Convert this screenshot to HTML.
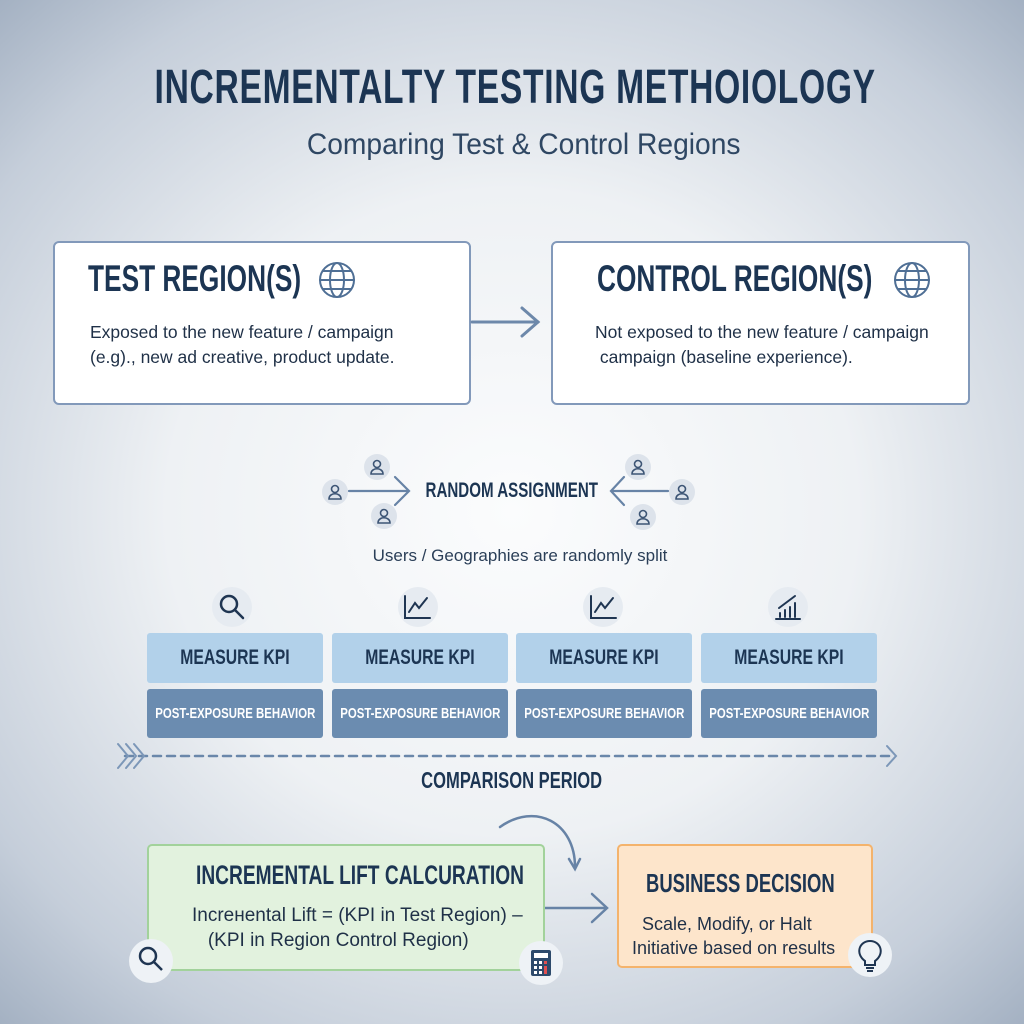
<!DOCTYPE html>
<html><head><meta charset="utf-8"><style>
body{margin:0;width:1024px;height:1024px;overflow:hidden;position:relative;font-family:"Liberation Sans",sans-serif;
background:radial-gradient(ellipse 75% 70% at 50% 50%,#fbfcfd 0%,#eef1f4 45%,#c5ceda 80%,#8d9db2 110%);}
.a{position:absolute}
.c{font-family:"Liberation Sans Narrow","Liberation Sans",sans-serif;font-weight:bold;color:#1c3553;white-space:nowrap}
.s{display:inline-block;transform:scaleX(.71);transform-origin:left center;white-space:nowrap}
.sc{display:inline-block;transform:scaleX(.72);transform-origin:center;white-space:nowrap}
.kpi{position:absolute;width:176px;height:50px;background:#b2d1ea;border-radius:3px;display:flex;align-items:center;justify-content:center;font-size:21px}
.peb{position:absolute;width:176px;height:49px;background:#6b8cb0;border-radius:3px;display:flex;align-items:center;justify-content:center;font-size:15px;color:#fff}
.ic{position:absolute;border-radius:50%;background:#eef2f6}
.box{position:absolute;background:#fff;border:2px solid #8299ba;border-radius:6px;box-sizing:border-box}
</style></head><body>
<div class="a c" style="left:0;width:1024px;top:60px;text-align:center;font-size:48px;letter-spacing:1px"><span class="sc" style="transform:scaleX(.7)">INCREMENTALTY TESTING METHOIOLOGY</span></div>
<div class="a" style="left:0;width:1048px;top:128px;text-align:center;font-size:30px;color:#2f4763"><span class="sc" style="transform:scaleX(.94)">Comparing Test &amp; Control Regions</span></div>

<div class="box" style="left:53px;top:241px;width:418px;height:164px"></div>
<div class="a c" style="left:88px;top:258px;font-size:37px"><span class="s">TEST REGION(S)</span></div>
<div class="a" style="left:90px;top:320px;font-size:17.5px;color:#1f3047;line-height:25px">Exposed to the new feature / campaign<br>(e.g)., new ad creative, product update.</div>
<div class="box" style="left:551px;top:241px;width:419px;height:164px"></div>
<div class="a c" style="left:597px;top:258px;font-size:37px"><span class="s">CONTROL REGION(S)</span></div>
<div class="a" style="left:595px;top:320px;font-size:17.5px;color:#1f3047;line-height:25px">Not exposed to the new feature / campaign<br>&nbsp;campaign (baseline experience).</div>

<svg class="a" style="left:0;top:0" width="1024" height="1024" fill="none" stroke-linecap="round">
<g stroke="#4f6f95" stroke-width="2">
<circle cx="337" cy="280" r="17"/><ellipse cx="337" cy="280" rx="7" ry="17"/><line x1="320" y1="280" x2="354" y2="280"/><path d="M323 271h28M323 289h28"/>
<circle cx="912" cy="280" r="17"/><ellipse cx="912" cy="280" rx="7" ry="17"/><line x1="895" y1="280" x2="929" y2="280"/><path d="M898 271h28M898 289h28"/>
</g>
<g stroke="#6d88aa" stroke-width="3"><line x1="472" y1="322" x2="538" y2="322"/><path d="M522 308l16 14-16 14"/></g>
<g fill="#dde3eb" stroke="none"><circle cx="335" cy="492" r="13"/><circle cx="377" cy="467" r="13"/><circle cx="384" cy="516" r="13"/><circle cx="638" cy="467" r="13"/><circle cx="682" cy="492" r="13"/><circle cx="643" cy="517" r="13"/></g>
<g stroke="#3d5575" stroke-width="1.6">
<circle cx="335" cy="489" r="3.5"/><path d="M329 499c0-7 12-7 12 0z"/>
<circle cx="377" cy="464" r="3.5"/><path d="M371 474c0-7 12-7 12 0z"/>
<circle cx="384" cy="513" r="3.5"/><path d="M378 523c0-7 12-7 12 0z"/>
<circle cx="638" cy="464" r="3.5"/><path d="M632 474c0-7 12-7 12 0z"/>
<circle cx="682" cy="489" r="3.5"/><path d="M676 499c0-7 12-7 12 0z"/>
<circle cx="643" cy="514" r="3.5"/><path d="M637 524c0-7 12-7 12 0z"/>
</g>
<g stroke="#6783a6" stroke-width="2.2"><line x1="349" y1="491" x2="408" y2="491"/><path d="M395 477l14 14-14 14"/>
<line x1="668" y1="491" x2="612" y2="491"/><path d="M624 477l-13 14 13 14"/></g>
<g fill="#e6ebf1" stroke="none"><circle cx="232" cy="607" r="20"/><circle cx="418" cy="607" r="20"/><circle cx="603" cy="607" r="20"/><circle cx="788" cy="607" r="20"/></g>
<g stroke="#1f3552" stroke-width="2.5"><circle cx="229" cy="604" r="8"/><line x1="235" y1="610" x2="243" y2="618"/></g>
<g stroke="#1f3552" stroke-width="2"><path d="M405 596v22h25M409 612l6-9 4 5 8-10"/><path d="M591 596v22h25M595 612l6-9 4 5 8-10"/>
<path d="M776 619h24M780 617v-4M785 617v-7M790 617v-10M795 617v-14M779 608l16-12"/></g>
<line x1="125" y1="756" x2="892" y2="756" stroke="#6a87aa" stroke-width="2.5" stroke-dasharray="8 6"/>
<g stroke="#7c97b8" stroke-width="2"><path d="M118 744l10 12-10 12M126 744l10 12-10 12M134 744l10 12-10 12M887 746l9 10-9 10"/></g>
<g stroke="#6783a6" stroke-width="2.5"><path d="M500 827c35-25 75-5 75 40"/><path d="M569 859l6 10 5-10"/>
<line x1="545" y1="908" x2="606" y2="908"/><path d="M592 894l15 14-15 14"/></g>
</svg>

<div class="a c" style="left:0;width:1024px;top:479px;text-align:center;font-size:21px"><span class="sc">RANDOM ASSIGNMENT</span></div>
<div class="a" style="left:0;width:1040px;top:546px;text-align:center;font-size:17px;color:#2b3f58">Users / Geographies are randomly split</div>

<div class="kpi c" style="left:147px;top:633px"><span class="sc" style="transform:scaleX(.75)">MEASURE KPI</span></div>
<div class="kpi c" style="left:332px;top:633px"><span class="sc" style="transform:scaleX(.75)">MEASURE KPI</span></div>
<div class="kpi c" style="left:516px;top:633px"><span class="sc" style="transform:scaleX(.75)">MEASURE KPI</span></div>
<div class="kpi c" style="left:701px;top:633px"><span class="sc" style="transform:scaleX(.75)">MEASURE KPI</span></div>
<div class="peb c" style="left:147px;top:689px;color:#fff"><span class="sc" style="transform:scaleX(.76)">POST-EXPOSURE BEHAVIOR</span></div>
<div class="peb c" style="left:332px;top:689px;color:#fff"><span class="sc" style="transform:scaleX(.76)">POST-EXPOSURE BEHAVIOR</span></div>
<div class="peb c" style="left:516px;top:689px;color:#fff"><span class="sc" style="transform:scaleX(.76)">POST-EXPOSURE BEHAVIOR</span></div>
<div class="peb c" style="left:701px;top:689px;color:#fff"><span class="sc" style="transform:scaleX(.76)">POST-EXPOSURE BEHAVIOR</span></div>
<div class="a c" style="left:0;width:1024px;top:767px;text-align:center;font-size:23px"><span class="sc">COMPARISON PERIOD</span></div>

<div class="a" style="left:147px;top:844px;width:398px;height:127px;background:#e2f2de;border:2px solid #a2d29b;border-radius:5px;box-sizing:border-box"></div>
<div class="a c" style="left:196px;top:860px;font-size:27px"><span class="s">INCREMENTAL LIFT CALCURATION</span></div>
<div class="a" style="left:192px;top:903px;font-size:19px;color:#1f3047;line-height:25px">Incrенental Lift = (KPI in Test Region) –<br>&nbsp;&nbsp;&nbsp;(KPI in Region Control Region)</div>
<div class="a" style="left:617px;top:844px;width:256px;height:124px;background:#fde5cb;border:2px solid #f4b36c;border-radius:5px;box-sizing:border-box"></div>
<div class="a c" style="left:646px;top:868px;font-size:26px"><span class="s">BUSINESS DECISION</span></div>
<div class="a" style="left:632px;top:912px;font-size:18px;color:#1f3047;line-height:24px">&nbsp;&nbsp;Scale, Modify, or Halt<br>Initiative based on results</div>

<div class="ic" style="left:129px;top:939px;width:44px;height:44px"></div>
<div class="ic" style="left:519px;top:941px;width:44px;height:44px"></div>
<div class="ic" style="left:848px;top:933px;width:44px;height:44px"></div>
<svg class="a" style="left:0;top:0" width="1024" height="1024" fill="none">
<g stroke="#1f3552" stroke-width="2.5"><circle cx="148" cy="956" r="8"/><line x1="154" y1="962" x2="162" y2="970"/></g>
<rect x="531" y="950" width="20" height="26" rx="2" fill="#2d4a6b"/><rect x="534" y="953" width="14" height="5" fill="#fff"/>
<g fill="#fff"><rect x="534" y="961" width="3" height="3"/><rect x="539" y="961" width="3" height="3"/><rect x="544" y="961" width="3" height="3" fill="#e05050"/><rect x="534" y="966" width="3" height="3"/><rect x="539" y="966" width="3" height="3"/><rect x="534" y="971" width="3" height="3"/><rect x="539" y="971" width="3" height="3"/><rect x="544" y="966" width="3" height="8" fill="#e05050"/></g>
<g stroke="#1f3552" stroke-width="2"><path d="M865 961c-10-7-6-20 5-20s15 13 5 20v4h-10z"/><path d="M866 968h8M867 971h6"/></g>
</svg>
</body></html>
